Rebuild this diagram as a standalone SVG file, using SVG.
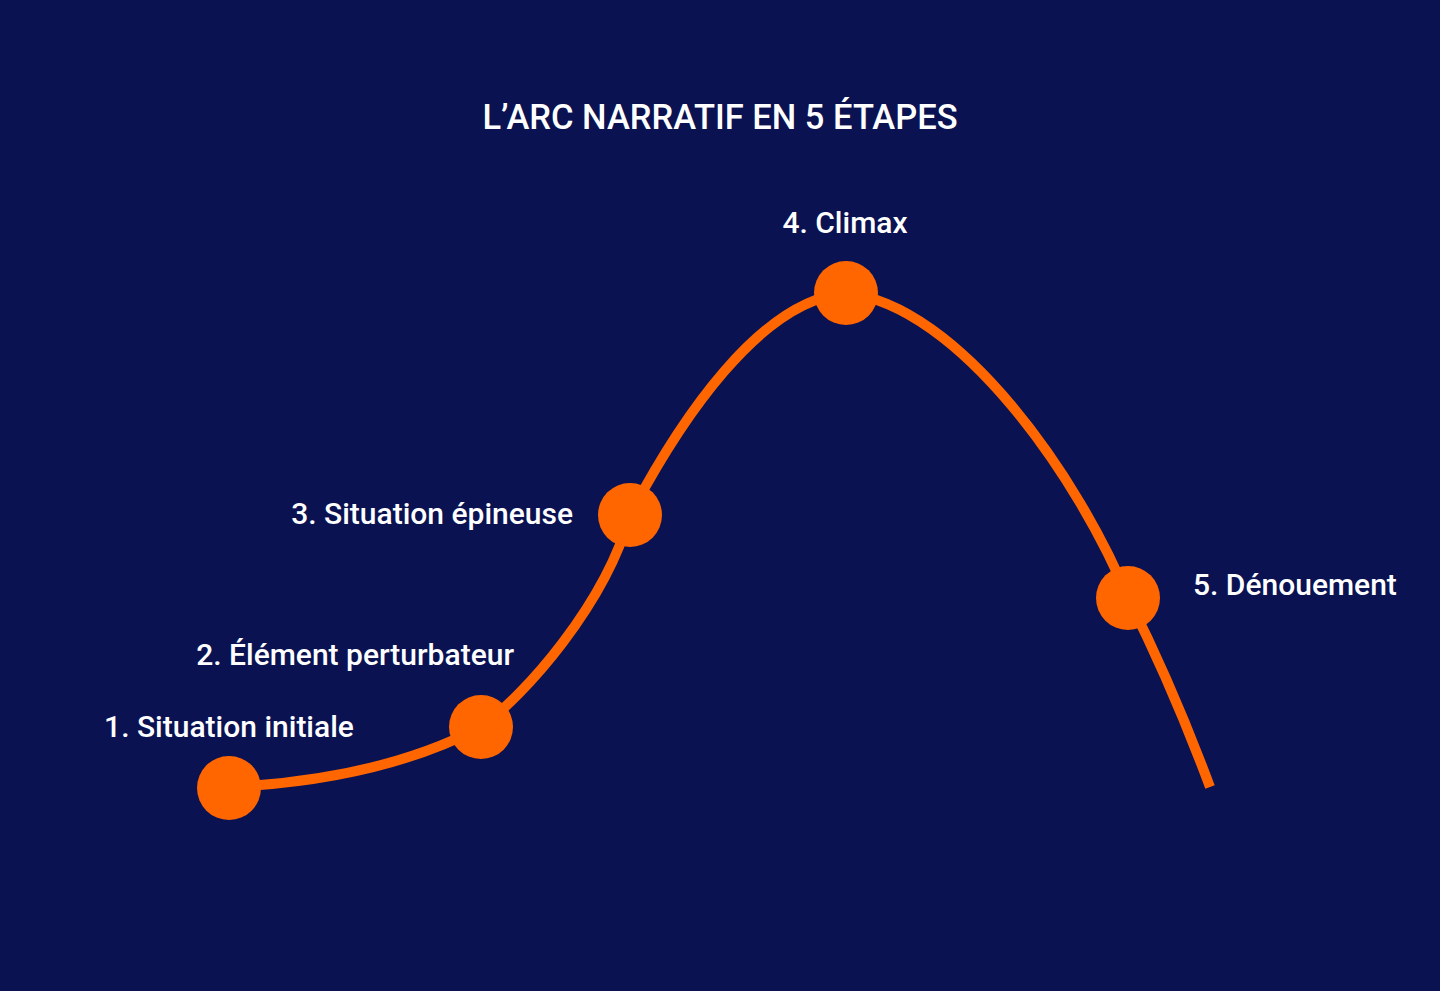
<svg xmlns="http://www.w3.org/2000/svg" width="1440" height="991" viewBox="0 0 1440 991">
  <style>
    .bg { fill: #0a1252; }
    .arc { fill: none; stroke: #ff6600; stroke-width: 10; stroke-linecap: butt; stroke-linejoin: round; }
    .dot { fill: #ff6600; }
    .lbl { fill: #ffffff; font-family: Roboto, "Liberation Sans", sans-serif; font-size: 30px; font-weight: 500; }
    .title { fill: #ffffff; font-family: Roboto, "Liberation Sans", sans-serif; font-size: 34.5px; font-weight: 500; }
  </style>
  <rect class="bg" x="0" y="0" width="1440" height="991"/>
  <text id="title" class="title" x="720" y="129" text-anchor="middle">L’ARC NARRATIF EN 5 ÉTAPES</text>
  <g id="connectors">
    <path class="arc" d="M229,787 Q380,780 481,727 C525,695 605,605 630,515 C680,420 760,300 846,293 C960,305 1080,480 1128,598 Q1172,685 1210,787"/>
  </g>
  <g id="node1">
    <circle class="dot" cx="229" cy="788" r="32"/>
    <text class="lbl" x="229" y="737" text-anchor="middle">1. Situation initiale</text>
  </g>
  <g id="node2">
    <circle class="dot" cx="481" cy="727" r="32"/>
    <text class="lbl" x="514" y="665" text-anchor="end">2. Élément perturbateur</text>
  </g>
  <g id="node3">
    <circle class="dot" cx="630" cy="515" r="32"/>
    <text class="lbl" x="573" y="524" text-anchor="end">3. Situation épineuse</text>
  </g>
  <g id="node4">
    <circle class="dot" cx="846" cy="293" r="32"/>
    <text class="lbl" x="845" y="233" text-anchor="middle">4. Climax</text>
  </g>
  <g id="node5">
    <circle class="dot" cx="1128" cy="598" r="32"/>
    <text class="lbl" x="1193" y="595" text-anchor="start">5. Dénouement</text>
  </g>
</svg>
